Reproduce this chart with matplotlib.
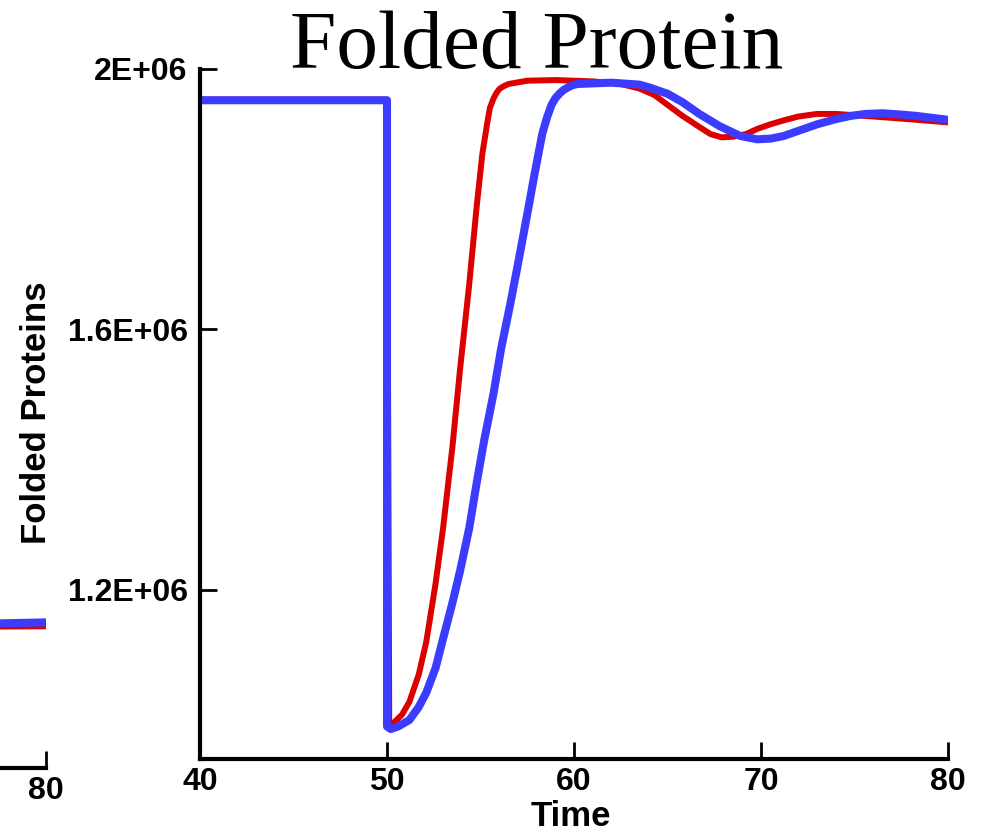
import numpy as np
import matplotlib
matplotlib.use("Agg")
import matplotlib.pyplot as plt

# values (time, folded proteins in millions)
t_red = [40, 50.0, 50.12, 50.3, 50.8, 51.2, 51.7, 52.1, 52.6, 53.0, 53.5, 53.9, 54.4, 54.8,
         55.1, 55.35, 55.5, 55.7, 55.85, 56.0, 56.2, 56.5, 57.5, 59, 61, 62.5, 63.5, 64.3, 65.0,
         65.8, 66.7, 67.3, 67.9, 68.5, 69.2, 69.8, 70.5, 71.2, 72.0, 73.0, 74.0, 75.0, 76.5, 78.3, 80]
v_red = [1.953, 1.953, 0.992, 0.994, 1.008, 1.028, 1.07, 1.12, 1.21, 1.295, 1.42, 1.537, 1.67, 1.79,
         1.87, 1.915, 1.94, 1.955, 1.963, 1.969, 1.973, 1.977, 1.982, 1.983, 1.981, 1.977, 1.970, 1.960, 1.945,
         1.928, 1.911, 1.900, 1.895, 1.896, 1.900, 1.908, 1.915, 1.921, 1.927, 1.931, 1.931, 1.929, 1.926, 1.922, 1.918]

t_blue = [40, 50.0, 50.0, 50.2, 50.6, 51.2, 51.7, 52.1, 52.6, 53.0, 53.5, 53.9, 54.4, 54.8, 55.2,
          55.7, 56.1, 56.6, 57.0, 57.5, 57.9, 58.3, 58.55, 58.8, 59.0, 59.25, 59.45, 59.7, 59.9, 60.2,
          62, 63.5, 64.1, 65.0, 65.8, 66.7, 67.8, 68.9, 69.8, 70.5, 71.2, 72.0, 73.0, 74.0, 74.8,
          75.6, 76.5, 77.5, 78.3, 80]
v_blue = [1.952, 1.952, 0.99, 0.986, 0.99, 1.0, 1.02, 1.042, 1.08, 1.125, 1.18, 1.228, 1.295, 1.365, 1.43,
          1.502, 1.57, 1.64, 1.70, 1.777, 1.84, 1.90, 1.925, 1.945, 1.955, 1.963, 1.968, 1.972, 1.975, 1.977,
          1.979, 1.976, 1.971, 1.962, 1.949, 1.931, 1.912, 1.897, 1.892, 1.893, 1.897, 1.905, 1.915, 1.923, 1.928,
          1.931, 1.932, 1.930, 1.928, 1.922]

# tail end of the neighbouring panel that is cut off on the left
t_left = [70, 80]
v_red_left = [1.158, 1.160]
v_blue_left = [1.160, 1.166]

xticks = [40, 50, 60, 70, 80]
yticks = [1.2e6, 1.6e6, 2.0e6]
ytick_labels = ['1.2E+06', '1.6E+06', '2E+06']

RED = '#dc0000'
BLUE = '#3c3cff'
sans = ['Liberation Sans', 'DejaVu Sans']

fig = plt.figure(figsize=(9.84, 8.33), dpi=100)

# cut-off left panel, only its right end is in the picture
axl = fig.add_axes([0.0467 - 0.76, 0.078, 0.76, 0.82])
axl.plot(t_left, np.array(v_red_left) * 1e6, color=RED, lw=4.3)
axl.plot(t_left, np.array(v_blue_left) * 1e6, color=BLUE, lw=5.8)
axl.set_xlim(40, 80)
axl.set_ylim(0.94e6, 2.0e6)
axl.set_xticks([80])
axl.set_yticks([])
for s in ['top', 'right', 'left']:
    axl.spines[s].set_visible(False)
axl.spines['bottom'].set_linewidth(3)
axl.tick_params(axis='x', direction='in', length=12, width=2, pad=6, labelsize=23)
for lab in axl.get_xticklabels():
    lab.set_fontfamily(sans)
    lab.set_fontweight('bold')

# main panel
ax = fig.add_axes([200 / 984, 1 - 759 / 833, 748 / 984, 690 / 833])
ax.plot(t_red, np.array(v_red) * 1e6, color=RED, lw=4.3, solid_joinstyle='round')
ax.plot(t_blue, np.array(v_blue) * 1e6, color=BLUE, lw=5.8, solid_joinstyle='round')
ax.set_xlim(40, 80)
ax.set_ylim(0.94e6, 2.0e6)
ax.set_xticks(xticks)
ax.set_yticks(yticks)
ax.set_yticklabels(ytick_labels)
for s in ['top', 'right']:
    ax.spines[s].set_visible(False)
for s in ['left', 'bottom']:
    ax.spines[s].set_linewidth(3)
ax.tick_params(direction='in', length=12, width=2, labelsize=23)
ax.tick_params(axis='x', pad=6)
ax.tick_params(axis='y', pad=9)
for lab in ax.get_xticklabels() + ax.get_yticklabels():
    lab.set_fontfamily(sans)
    lab.set_fontweight('bold')
ax.yaxis.get_major_ticks()[-1].tick1line.set_color(BLUE)

fig.text(0.545, 1 - 68 / 833, 'Folded Protein', ha='center', va='baseline',
         fontsize=60, family=['Liberation Serif', 'DejaVu Serif'])
fig.text(37 / 984, 1 - 413 / 833, 'Folded Proteins', rotation=90, ha='center', va='center',
         fontsize=25, fontweight='bold', family=sans)
fig.text(571 / 984, 1 - 816 / 833, 'Time', ha='center', va='center',
         fontsize=25, fontweight='bold', family=sans)

fig.savefig('out.png', dpi=100)
